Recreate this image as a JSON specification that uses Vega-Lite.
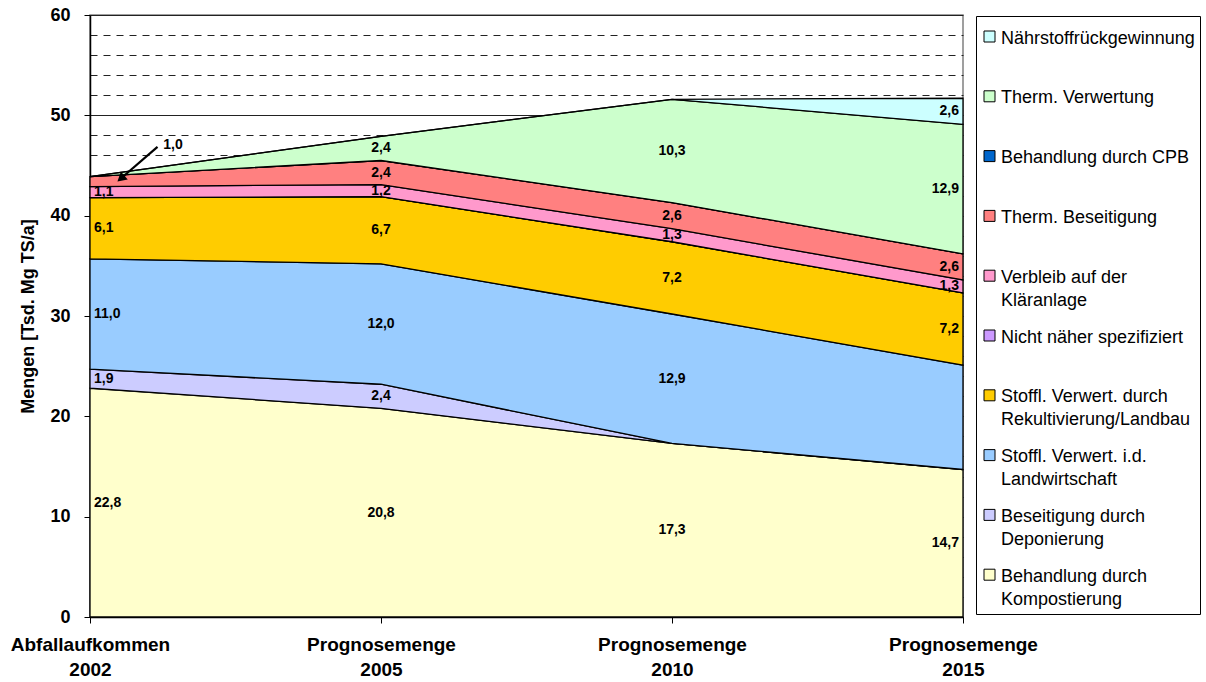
{
  "$schema": "https://vega.github.io/schema/vega-lite/v6.json",
  "width": 873,
  "height": 602,
  "autosize": "none",
  "padding": {"left": 90, "top": 15, "right": 243, "bottom": 65},
  "background": "white",
  "config": {
    "font": "Liberation Sans",
    "locale": {"number": {"decimal": ",", "thousands": ".", "grouping": [3], "currency": ["", " €"]}},
    "view": {"stroke": "#808080", "strokeWidth": 1.5}
  },
  "data": {"values": [
    {"t": 0, "stufe": 1, "kat": "Behandlung durch Kompostierung", "wert": 22.8},
    {"t": 1, "stufe": 1, "kat": "Behandlung durch Kompostierung", "wert": 20.8},
    {"t": 2, "stufe": 1, "kat": "Behandlung durch Kompostierung", "wert": 17.3},
    {"t": 3, "stufe": 1, "kat": "Behandlung durch Kompostierung", "wert": 14.7},
    {"t": 0, "stufe": 2, "kat": "Beseitigung durch Deponierung", "wert": 1.9},
    {"t": 1, "stufe": 2, "kat": "Beseitigung durch Deponierung", "wert": 2.4},
    {"t": 2, "stufe": 2, "kat": "Beseitigung durch Deponierung", "wert": 0},
    {"t": 3, "stufe": 2, "kat": "Beseitigung durch Deponierung", "wert": 0},
    {"t": 0, "stufe": 3, "kat": "Stoffl. Verwert. i.d. Landwirtschaft", "wert": 11.0},
    {"t": 1, "stufe": 3, "kat": "Stoffl. Verwert. i.d. Landwirtschaft", "wert": 12.0},
    {"t": 2, "stufe": 3, "kat": "Stoffl. Verwert. i.d. Landwirtschaft", "wert": 12.9},
    {"t": 3, "stufe": 3, "kat": "Stoffl. Verwert. i.d. Landwirtschaft", "wert": 10.4},
    {"t": 0, "stufe": 4, "kat": "Stoffl. Verwert. durch Rekultivierung/Landbau", "wert": 6.1},
    {"t": 1, "stufe": 4, "kat": "Stoffl. Verwert. durch Rekultivierung/Landbau", "wert": 6.7},
    {"t": 2, "stufe": 4, "kat": "Stoffl. Verwert. durch Rekultivierung/Landbau", "wert": 7.2},
    {"t": 3, "stufe": 4, "kat": "Stoffl. Verwert. durch Rekultivierung/Landbau", "wert": 7.2},
    {"t": 0, "stufe": 5, "kat": "Nicht näher spezifiziert", "wert": 0},
    {"t": 1, "stufe": 5, "kat": "Nicht näher spezifiziert", "wert": 0},
    {"t": 2, "stufe": 5, "kat": "Nicht näher spezifiziert", "wert": 0},
    {"t": 3, "stufe": 5, "kat": "Nicht näher spezifiziert", "wert": 0},
    {"t": 0, "stufe": 6, "kat": "Verbleib auf der Kläranlage", "wert": 1.1},
    {"t": 1, "stufe": 6, "kat": "Verbleib auf der Kläranlage", "wert": 1.2},
    {"t": 2, "stufe": 6, "kat": "Verbleib auf der Kläranlage", "wert": 1.3},
    {"t": 3, "stufe": 6, "kat": "Verbleib auf der Kläranlage", "wert": 1.3},
    {"t": 0, "stufe": 7, "kat": "Therm. Beseitigung", "wert": 1.0},
    {"t": 1, "stufe": 7, "kat": "Therm. Beseitigung", "wert": 2.4},
    {"t": 2, "stufe": 7, "kat": "Therm. Beseitigung", "wert": 2.6},
    {"t": 3, "stufe": 7, "kat": "Therm. Beseitigung", "wert": 2.6},
    {"t": 0, "stufe": 8, "kat": "Behandlung durch CPB", "wert": 0},
    {"t": 1, "stufe": 8, "kat": "Behandlung durch CPB", "wert": 0},
    {"t": 2, "stufe": 8, "kat": "Behandlung durch CPB", "wert": 0},
    {"t": 3, "stufe": 8, "kat": "Behandlung durch CPB", "wert": 0},
    {"t": 0, "stufe": 9, "kat": "Therm. Verwertung", "wert": 0},
    {"t": 1, "stufe": 9, "kat": "Therm. Verwertung", "wert": 2.4},
    {"t": 2, "stufe": 9, "kat": "Therm. Verwertung", "wert": 10.3},
    {"t": 3, "stufe": 9, "kat": "Therm. Verwertung", "wert": 12.9},
    {"t": 0, "stufe": 10, "kat": "Nährstoffrückgewinnung", "wert": 0},
    {"t": 1, "stufe": 10, "kat": "Nährstoffrückgewinnung", "wert": 0},
    {"t": 2, "stufe": 10, "kat": "Nährstoffrückgewinnung", "wert": 0},
    {"t": 3, "stufe": 10, "kat": "Nährstoffrückgewinnung", "wert": 2.6}
  ]},
  "layer": [
    {
      "mark": {"type": "area", "opacity": 1, "stroke": "#000000", "strokeWidth": 1.3, "strokeJoin": "miter"},
      "encoding": {
        "x": {
          "field": "t", "type": "quantitative", "title": null,
          "scale": {"domain": [0, 3], "nice": false, "zero": false},
          "axis": {
            "values": [0, 1, 2, 3],
            "labelExpr": "[['Abfallaufkommen', '2002'], ['Prognosemenge', '2005'], ['Prognosemenge', '2010'], ['Prognosemenge', '2015']][datum.value]",
            "labelFontSize": 19, "labelFontWeight": "bold", "labelColor": "#000",
            "labelLineHeight": 25, "labelPadding": 12, "labelOverlap": false, "labelFlush": false, "labelBound": false,
            "tickSize": 6, "tickColor": "#000", "domainColor": "#000", "domainWidth": 1.5, "grid": false
          }
        },
        "y": {
          "field": "wert", "type": "quantitative", "stack": "zero",
          "title": "Mengen [Tsd. Mg TS/a]",
          "scale": {"domain": [0, 60], "nice": false},
          "axis": {
            "values": [0, 2, 4, 6, 8, 10, 12, 14, 16, 18, 20, 22, 24, 26, 28, 30, 32, 34, 36, 38, 40, 42, 44, 46, 48, 50, 52, 54, 56, 58, 60],
            "tickCount": 31,
            "labelExpr": "datum.value % 10 == 0 ? datum.label : ''",
            "labelFontSize": 18, "labelFontWeight": "bold", "labelColor": "#000", "labelPadding": 14, "labelOverlap": false,
            "titleFontSize": 18, "titleFontWeight": "bold", "titleColor": "#000", "titlePadding": 12,
            "tickSize": 6, "tickColor": "#000",
            "tickOpacity": {"condition": {"test": "datum.value % 10 == 0", "value": 1}, "value": 0},
            "domainColor": "#000", "domainWidth": 1.5,
            "grid": true, "gridColor": "#222", "gridWidth": 1,
            "gridDash": {"condition": {"test": "datum.value % 10 == 0", "value": []}, "value": [7, 6]}
          }
        },
        "color": {
          "field": "kat", "type": "nominal",
          "scale": {
            "domain": ["Nährstoffrückgewinnung", "Therm. Verwertung", "Behandlung durch CPB", "Therm. Beseitigung", "Verbleib auf der Kläranlage", "Nicht näher spezifiziert", "Stoffl. Verwert. durch Rekultivierung/Landbau", "Stoffl. Verwert. i.d. Landwirtschaft", "Beseitigung durch Deponierung", "Behandlung durch Kompostierung"],
            "range": ["#CCFFFF", "#CCFFCC", "#0066CC", "#FF8080", "#FF99CC", "#CC99FF", "#FFCC00", "#99CCFF", "#CCCCFF", "#FFFFCC"]
          },
          "legend": {
            "title": null, "orient": "none", "legendX": 886, "legendY": 1,
            "strokeColor": "#000", "padding": 4.5, "rowPadding": 9.8,
            "symbolType": "square", "symbolSize": 121, "symbolStrokeColor": "#000", "symbolStrokeWidth": 1, "symbolOpacity": 1,
            "labelFontSize": 18, "labelColor": "#000", "labelOffset": 2.5, "labelLimit": 260, "labelBaseline": "top",
            "labelExpr": "datum.label == 'Verbleib auf der Kläranlage' ? ['Verbleib auf der', 'Kläranlage'] : datum.label == 'Stoffl. Verwert. durch Rekultivierung/Landbau' ? ['Stoffl. Verwert. durch', 'Rekultivierung/Landbau'] : datum.label == 'Stoffl. Verwert. i.d. Landwirtschaft' ? ['Stoffl. Verwert. i.d.', 'Landwirtschaft'] : datum.label == 'Beseitigung durch Deponierung' ? ['Beseitigung durch', 'Deponierung'] : datum.label == 'Behandlung durch Kompostierung' ? ['Behandlung durch', 'Kompostierung'] : [datum.label, '']",
            "encode": {
              "labels": {"update": {"lineHeight": {"value": 23}}},
              "symbols": {"update": {"y": {"value": 16}}}
            }
          }
        },
        "order": {"field": "stufe", "type": "quantitative", "sort": "ascending"}
      }
    },
    {
      "transform": [
        {"stack": "wert", "groupby": ["t"], "sort": [{"field": "stufe", "order": "ascending"}], "as": ["unten", "oben"]},
        {"calculate": "(datum.unten + datum.oben) / 2", "as": "mitte"}
      ],
      "layer": [
        {
          "transform": [{"filter": "datum.t == 0 && datum.wert > 0 && datum.kat != 'Therm. Beseitigung'"}],
          "mark": {"type": "text", "align": "left", "baseline": "middle", "dx": 4, "fontSize": 14, "fontWeight": "bold", "color": "#000"},
          "encoding": {
            "x": {"field": "t", "type": "quantitative", "title": null},
            "y": {"field": "mitte", "type": "quantitative", "title": "Mengen [Tsd. Mg TS/a]"},
            "text": {"field": "wert", "type": "quantitative", "format": ".1f"}
          }
        },
        {
          "transform": [{"filter": "(datum.t == 1 || datum.t == 2) && datum.wert > 0"}],
          "mark": {"type": "text", "align": "center", "baseline": "middle", "fontSize": 14, "fontWeight": "bold", "color": "#000"},
          "encoding": {
            "x": {"field": "t", "type": "quantitative", "title": null},
            "y": {"field": "mitte", "type": "quantitative", "title": "Mengen [Tsd. Mg TS/a]"},
            "text": {"field": "wert", "type": "quantitative", "format": ".1f"}
          }
        },
        {
          "transform": [{"filter": "datum.t == 3 && datum.wert > 0 && datum.kat != 'Stoffl. Verwert. i.d. Landwirtschaft'"}],
          "mark": {"type": "text", "align": "right", "baseline": "middle", "dx": -4, "fontSize": 14, "fontWeight": "bold", "color": "#000"},
          "encoding": {
            "x": {"field": "t", "type": "quantitative", "title": null},
            "y": {"field": "mitte", "type": "quantitative", "title": "Mengen [Tsd. Mg TS/a]"},
            "text": {"field": "wert", "type": "quantitative", "format": ".1f"}
          }
        },
        {
          "transform": [{"filter": "datum.t == 0 && datum.kat == 'Therm. Beseitigung'"}],
          "mark": {"type": "text", "align": "center", "baseline": "middle", "fontSize": 14, "fontWeight": "bold", "color": "#000"},
          "encoding": {
            "x": {"datum": 0.285},
            "y": {"datum": 47.06},
            "text": {"field": "wert", "type": "quantitative", "format": ".1f"}
          }
        }
      ]
    },
    {
      "data": {"values": [{"t": 0.232, "y": 46.85, "t2": 0.11, "y2": 43.8}]},
      "layer": [
        {
          "mark": {"type": "rule", "color": "#000", "strokeWidth": 2.2},
          "encoding": {
            "x": {"field": "t", "type": "quantitative", "title": null},
            "y": {"field": "y", "type": "quantitative", "title": "Mengen [Tsd. Mg TS/a]"},
            "x2": {"field": "t2"},
            "y2": {"field": "y2"}
          }
        },
        {
          "mark": {"type": "point", "shape": "triangle", "filled": true, "color": "#000", "opacity": 1, "size": 110, "angle": 229},
          "encoding": {
            "x": {"field": "t2", "type": "quantitative", "title": null},
            "y": {"field": "y2", "type": "quantitative", "title": "Mengen [Tsd. Mg TS/a]"}
          }
        }
      ]
    }
  ]
}
